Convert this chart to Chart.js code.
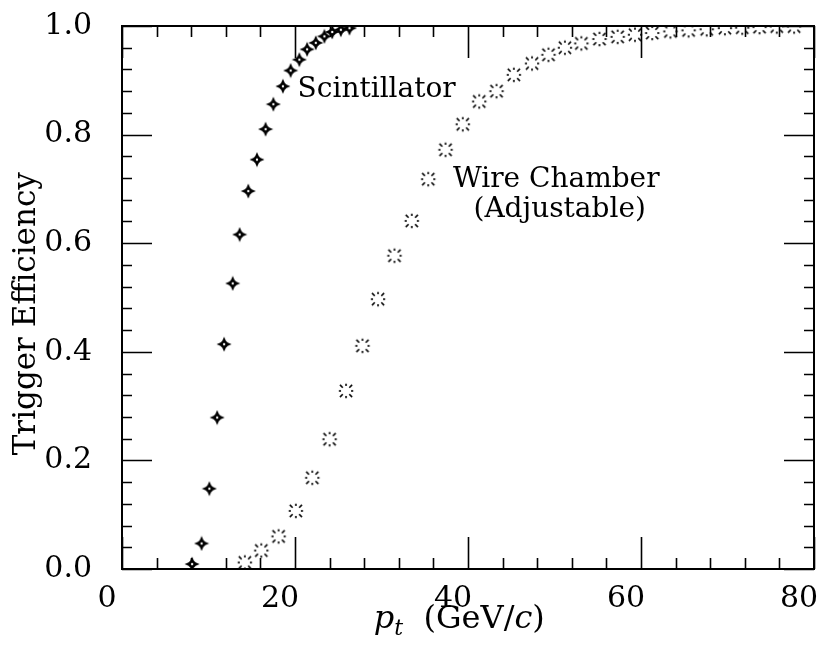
<!DOCTYPE html>
<html>
<head>
<meta charset="utf-8">
<script src="https://cdn.jsdelivr.net/npm/chart.js@4.4.1/dist/chart.umd.min.js"></script>
<style>
  body { margin: 0; background: #fff; }
</style>
</head>
<body>
<canvas id="effChart" width="824" height="656"></canvas>
<script>
// Scintillator trigger efficiency vs pt
const scintPt = [8.1, 9.2, 10.1, 11.0, 11.8, 12.8, 13.6, 14.6, 15.6, 16.6, 17.5, 18.6, 19.5, 20.5, 21.4, 22.4, 23.4, 24.3, 25.3, 26.3];
const scintEff = [0.009, 0.047, 0.148, 0.279, 0.414, 0.526, 0.616, 0.696, 0.754, 0.810, 0.856, 0.889, 0.918, 0.938, 0.957, 0.969, 0.981, 0.989, 0.993, 0.996];

// Wire chamber (adjustable) trigger efficiency vs pt
const wirePt = [14.2, 16.1, 18.1, 20.1, 22.0, 24.0, 25.9, 27.8, 29.6, 31.5, 33.5, 35.4, 37.4, 39.4, 41.3, 43.3, 45.3, 47.4, 49.3, 51.2, 53.1, 55.2, 57.3, 59.3, 61.3, 63.4, 65.5, 67.6, 69.7, 71.7, 73.7, 75.7, 77.7];
const wireEff = [0.012, 0.034, 0.060, 0.107, 0.168, 0.239, 0.328, 0.411, 0.497, 0.577, 0.641, 0.718, 0.772, 0.819, 0.861, 0.880, 0.910, 0.931, 0.947, 0.960, 0.968, 0.976, 0.980, 0.984, 0.987, 0.990, 0.992, 0.994, 0.996, 0.997, 0.998, 0.999, 0.999];

const xMajor = 20, xMinor = 4, xMax = 80;
const yMajor = 0.2, yMinor = 0.04, yMax = 1.0;

const SERIF = '"DejaVu Serif", "Liberation Serif", serif';

// marker: four-point star with a small hole
function makeStar() {
  const c = document.createElement("canvas");
  c.width = 16; c.height = 16;
  const g = c.getContext("2d");
  g.fillStyle = "#000";
  g.beginPath();
  g.moveTo(8, 0.5); g.lineTo(10.3, 5.7); g.lineTo(15.5, 8); g.lineTo(10.3, 10.3);
  g.lineTo(8, 15.5); g.lineTo(5.7, 10.3); g.lineTo(0.5, 8); g.lineTo(5.7, 5.7);
  g.closePath();
  g.fill();
  g.beginPath();
  g.arc(8, 8, 3.6, 0, Math.PI * 2);
  g.fill();
  g.fillStyle = "#fff";
  g.beginPath();
  g.arc(8, 8, 1.2, 0, Math.PI * 2);
  g.fill();
  return c;
}

// marker: broken square of short radial dashes
function makeDashBox() {
  const c = document.createElement("canvas");
  c.width = 18; c.height = 18;
  const g = c.getContext("2d");
  g.strokeStyle = "#000";
  g.lineWidth = 1.6;
  for (let k = 0; k < 8; k++) {
    const a = k * Math.PI / 4;
    const diag = k % 2 === 1;
    const r0 = diag ? 4.6 : 5.0, r1 = diag ? 8.6 : 7.2;
    g.beginPath();
    g.moveTo(9 + r0 * Math.cos(a), 9 + r0 * Math.sin(a));
    g.lineTo(9 + r1 * Math.cos(a), 9 + r1 * Math.sin(a));
    g.stroke();
  }
  return c;
}

const toPoints = (xs, ys) => xs.map((x, i) => ({ x: x, y: ys[i] }));

// frame with inward ticks on all four sides
const framePlugin = {
  id: "frame",
  beforeDatasetsDraw(chart) {
    const ctx = chart.ctx;
    const a = chart.chartArea;
    const xs = chart.scales.x, ys = chart.scales.y;
    ctx.save();
    ctx.strokeStyle = "#000";
    ctx.lineWidth = 2;
    ctx.strokeRect(a.left, a.top, a.right - a.left, a.bottom - a.top);
    ctx.lineWidth = 1.6;
    ctx.beginPath();
    for (let i = 0; i * xMinor <= xMax + 1e-9; i++) {
      const v = i * xMinor;
      const px = Math.round(xs.getPixelForValue(v)) + 0.5;
      const len = (i % (xMajor / xMinor) === 0) ? 32 : 11;
      ctx.moveTo(px, a.bottom); ctx.lineTo(px, a.bottom - len);
      ctx.moveTo(px, a.top); ctx.lineTo(px, a.top + len);
    }
    const yn = Math.round(yMax / yMinor);
    const yEvery = Math.round(yMajor / yMinor);
    for (let i = 0; i <= yn; i++) {
      const v = i * yMinor;
      const py = Math.round(ys.getPixelForValue(v)) + 0.5;
      const len = (i % yEvery === 0) ? 30 : 10;
      ctx.moveTo(a.left, py); ctx.lineTo(a.left + len, py);
      ctx.moveTo(a.right, py); ctx.lineTo(a.right - len, py);
    }
    ctx.stroke();
    ctx.restore();
  },
  afterDraw(chart) {
    const ctx = chart.ctx;
    const xs = chart.scales.x, ys = chart.scales.y;
    ctx.save();
    ctx.fillStyle = "#000";

    // curve labels
    ctx.font = "28px " + SERIF;
    ctx.textBaseline = "alphabetic";
    ctx.textAlign = "left";
    ctx.fillText("Scintillator", xs.getPixelForValue(20.3), ys.getPixelForValue(0.869));
    ctx.textAlign = "center";
    ctx.fillText("Wire Chamber", xs.getPixelForValue(50.2), ys.getPixelForValue(0.703));
    ctx.fillText("(Adjustable)", xs.getPixelForValue(50.6), ys.getPixelForValue(0.648));

    // y title
    ctx.save();
    ctx.translate(27, ys.getPixelForValue(0.47));
    ctx.rotate(-Math.PI / 2);
    ctx.font = "31px " + SERIF;
    ctx.textAlign = "center";
    ctx.textBaseline = "middle";
    ctx.fillText("Trigger Efficiency", 0, 0);
    ctx.restore();

    // x title: p_t (GeV/c)
    const big = "32px " + SERIF, bigIt = "italic 32px " + SERIF, small = "italic 22px " + SERIF;
    const parts = [
      { t: "p", f: bigIt, dy: 0 },
      { t: "t", f: small, dy: 7 },
      { t: "  (GeV/", f: big, dy: 0 },
      { t: "c", f: bigIt, dy: 0 },
      { t: ")", f: big, dy: 0 }
    ];
    let total = 0;
    parts.forEach(p => { ctx.font = p.f; p.w = ctx.measureText(p.t).width; total += p.w; });
    let x = xs.getPixelForValue(39) - total / 2;
    const base = 628;
    ctx.textAlign = "left";
    ctx.textBaseline = "alphabetic";
    parts.forEach(p => { ctx.font = p.f; ctx.fillText(p.t, x, base + p.dy); x += p.w; });
    ctx.restore();
  }
};

new Chart(document.getElementById("effChart").getContext("2d"), {
  type: "scatter",
  data: {
    datasets: [
      {
        label: "Scintillator",
        data: toPoints(scintPt, scintEff),
        pointStyle: makeStar(),
        pointRadius: 8,
        showLine: false
      },
      {
        label: "Wire Chamber (Adjustable)",
        data: toPoints(wirePt, wireEff),
        pointStyle: makeDashBox(),
        pointRadius: 9,
        showLine: false
      }
    ]
  },
  options: {
    responsive: false,
    animation: false,
    layout: { padding: { top: 26, right: 7, left: 0, bottom: 0 } },
    plugins: {
      legend: { display: false },
      tooltip: { enabled: false }
    },
    scales: {
      x: {
        type: "linear",
        min: 0,
        max: xMax,
        grid: { display: false, drawTicks: false },
        border: { display: false },
        ticks: {
          stepSize: xMajor,
          color: "#000",
          font: { family: SERIF, size: 30 },
          padding: 12,
          labelOffset: -15,
          maxRotation: 0
        },
        afterFit(scale) {
          scale.height = 87;
          scale.paddingLeft = 0;
          scale.paddingRight = 0;
        }
      },
      y: {
        type: "linear",
        min: 0,
        max: yMax,
        grid: { display: false, drawTicks: false },
        border: { display: false },
        ticks: {
          stepSize: yMajor,
          color: "#000",
          font: { family: SERIF, size: 30 },
          padding: 30,
          callback: v => v.toFixed(1)
        },
        afterFit(scale) {
          scale.width = 122;
          scale.paddingTop = 0;
          scale.paddingBottom = 0;
        }
      }
    }
  },
  plugins: [framePlugin]
});
</script>
</body>
</html>
